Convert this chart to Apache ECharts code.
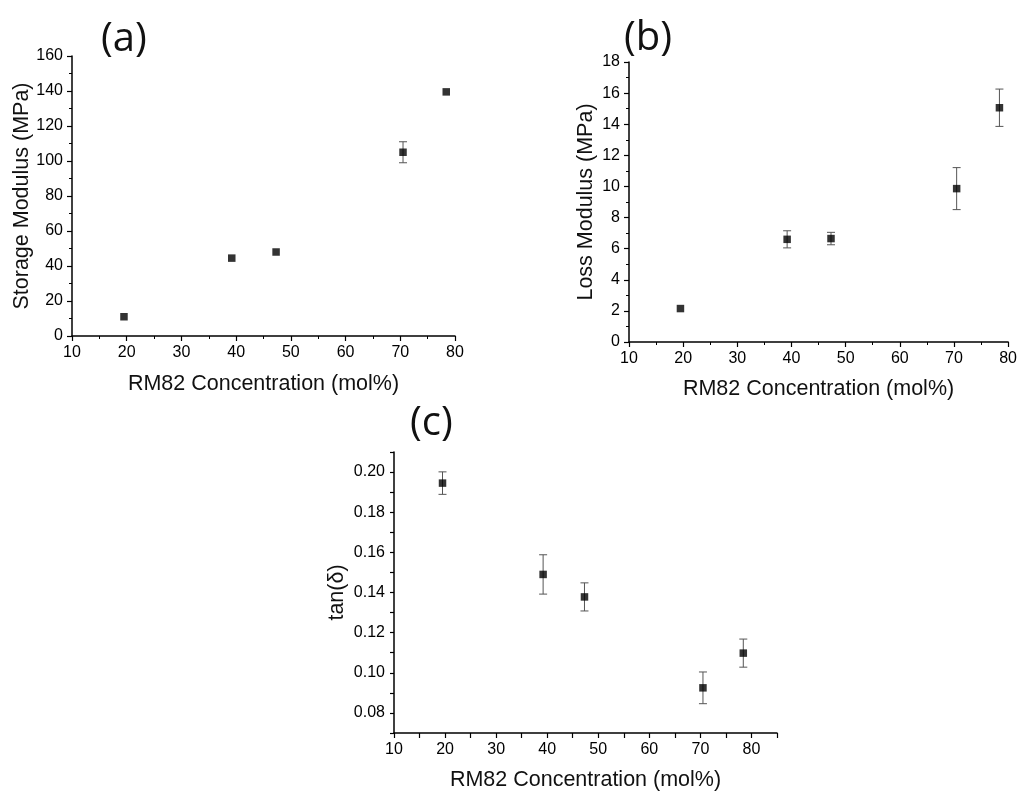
<!DOCTYPE html>
<html>
<head>
<meta charset="utf-8">
<script src="https://cdn.jsdelivr.net/npm/echarts@6/dist/echarts.min.js"></script>
<style>
  html, body { margin: 0; padding: 0; background: #fff; }
  #chart { width: 1020px; height: 792px; }
</style>
</head>
<body>
<div id="chart"></div>
<script>
// RM82 concentration (mol%) shared by all three panels
const concentration = [19.5, 39.2, 47.3, 70.5, 78.4];

// (a) storage modulus, MPa
const storageModulus = [11, 44.5, 48, 105, 139.5];
const storageErr = [0, 0, 0, 6, 0];

// (b) loss modulus, MPa
const lossModulus = [2.15, 6.6, 6.65, 9.86, 15.06];
const lossErr = [0, 0.55, 0.4, 1.35, 1.2];

// (c) tan(delta)
const tanDelta = [0.1945, 0.149, 0.1378, 0.0925, 0.1098];
const tanErr = [0.0056, 0.0098, 0.007, 0.0079, 0.007];

const panelTitles = ["(a)", "(b)", "(c)"];
const xTitle = "RM82 Concentration (mol%)";
const yTitles = ["Storage Modulus (MPa)", "Loss Modulus (MPa)", "tan(δ)"];

const labelFont = "Liberation Sans";
const ink = "#111";

function makeAxis(gridIndex, extra) {
  return Object.assign({
    gridIndex: gridIndex,
    type: "value",
    nameLocation: "middle",
    nameMoveOverlap: false,
    nameTextStyle: { fontFamily: labelFont, fontSize: 21.5, color: ink },
    axisLine: { show: true, onZero: false, lineStyle: { color: "#000", width: 1.5 } },
    axisTick: { show: true, inside: false, length: 5, lineStyle: { color: "#000", width: 1.2 } },
    minorTick: { show: true, splitNumber: 2, length: 3, lineStyle: { color: "#000", width: 1 } },
    splitLine: { show: false },
    minorSplitLine: { show: false },
    axisLabel: { fontFamily: labelFont, fontSize: 16, color: "#000", margin: 9 }
  }, extra);
}

function points(ys) {
  return concentration.map((c, i) => [c, ys[i]]);
}
function bars(ys, errs) {
  return concentration.map((c, i) => [c, ys[i], errs[i]]);
}

function errorBars(params, api) {
  const x = api.value(0), y = api.value(1), e = api.value(2);
  if (!e) return;
  const hi = api.coord([x, y + e]);
  const lo = api.coord([x, y - e]);
  const cap = 4;
  const style = { stroke: "#555", lineWidth: 1 };
  return {
    type: "group",
    children: [
      { type: "line", shape: { x1: hi[0], y1: hi[1], x2: lo[0], y2: lo[1] }, style: style },
      { type: "line", shape: { x1: hi[0] - cap, y1: hi[1], x2: hi[0] + cap, y2: hi[1] }, style: style },
      { type: "line", shape: { x1: lo[0] - cap, y1: lo[1], x2: lo[0] + cap, y2: lo[1] }, style: style }
    ]
  };
}

function panelSeries(idx, ys, errs) {
  return [
    {
      type: "custom",
      xAxisIndex: idx, yAxisIndex: idx,
      renderItem: errorBars,
      encode: { x: 0, y: 1 },
      data: bars(ys, errs),
      silent: true,
      z: 2
    },
    {
      type: "scatter",
      xAxisIndex: idx, yAxisIndex: idx,
      symbol: "rect",
      symbolSize: 7.5,
      itemStyle: { color: "#000" },
      data: points(ys),
      z: 3
    }
  ];
}

const chart = echarts.init(document.getElementById("chart"), null, { renderer: "canvas" });

const titleStyle = { fontFamily: "Open Sans", fontSize: 40, fontWeight: "normal", color: ink };

chart.setOption({
  backgroundColor: "#fff",
  animation: false,
  title: [
    { text: panelTitles[0], left: 96, top: 15, textStyle: titleStyle },
    { text: panelTitles[1], left: 619, top: 14, textStyle: titleStyle },
    { text: panelTitles[2], left: 405, top: 399, textStyle: titleStyle }
  ],
  grid: [
    { left: 72, top: 56, width: 383, height: 280 },
    { left: 629, top: 62, width: 382, height: 280 },
    { left: 394, top: 452, width: 383, height: 281 }
  ],
  xAxis: [
    makeAxis(0, { min: 10, max: 80, interval: 10, name: xTitle, nameGap: 37 }),
    makeAxis(1, { min: 10, max: 80, interval: 10, name: xTitle, nameGap: 36 }),
    makeAxis(2, {
      min: 10, max: 85, interval: 5, name: xTitle, nameGap: 36,
      minorTick: { show: false },
      axisLabel: { fontFamily: labelFont, fontSize: 16, color: "#000", margin: 9,
        formatter: v => (Math.round(v) % 10 === 0 ? String(Math.round(v)) : "") }
    })
  ],
  yAxis: [
    makeAxis(0, { min: 0, max: 160, interval: 20, name: yTitles[0], nameGap: 39 }),
    makeAxis(1, { min: 0, max: 18, interval: 2, name: yTitles[1], nameGap: 32 }),
    makeAxis(2, {
      min: 0.07, max: 0.21, interval: 0.01, name: yTitles[2], nameGap: 46,
      minorTick: { show: false },
      axisTick: { show: true, length: 4, lineStyle: { color: "#000", width: 1.2 } },
      axisLabel: { fontFamily: labelFont, fontSize: 16, color: "#000", margin: 9,
        formatter: v => (Math.round(v * 100) % 2 === 0 ? v.toFixed(2) : "") }
    })
  ],
  series: [].concat(
    panelSeries(0, storageModulus, storageErr),
    panelSeries(1, lossModulus, lossErr),
    panelSeries(2, tanDelta, tanErr)
  )
});
</script>
</body>
</html>
